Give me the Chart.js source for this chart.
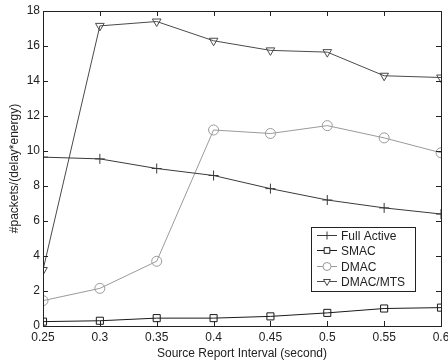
<!DOCTYPE html>
<html>
<head>
<meta charset="utf-8">
<script src="https://cdn.jsdelivr.net/npm/chart.js@4/dist/chart.umd.min.js"></script>
<style>
  html, body { margin: 0; padding: 0; background: #fff; }
  #wrap { width: 448px; height: 362px; }
</style>
</head>
<body>
<div id="wrap"><canvas id="chart"></canvas></div>
<script>
const intervals = [0.25, 0.3, 0.35, 0.4, 0.45, 0.5, 0.55, 0.6];
const fullActive = [9.65, 9.55, 9.0, 8.6, 7.85, 7.2, 6.75, 6.4];
const smac = [0.25, 0.3, 0.45, 0.45, 0.55, 0.75, 1.0, 1.05];
const dmac = [1.45, 2.15, 3.7, 11.2, 11.0, 11.45, 10.75, 9.9];
const dmacMts = [3.2, 17.15, 17.4, 16.3, 15.75, 15.65, 14.3, 14.2];
const seriesNames = ['Full Active', 'SMAC', 'DMAC', 'DMAC/MTS'];
const yTicks = [0, 2, 4, 6, 8, 10, 12, 14, 16, 18];

const font = { family: 'Arial, "Liberation Sans", sans-serif', size: 12 };

function pts(values) {
    return values.map((v, i) => ({ x: intervals[i], y: v }));
}

function series(label, values, color, style, radius, rotation) {
    return {
        label: label,
        data: pts(values),
        borderColor: color,
        backgroundColor: 'transparent',
        borderWidth: 1,
        pointStyle: style,
        pointRadius: radius,
        pointRotation: rotation || 0,
        pointBorderColor: color,
        pointBorderWidth: 1,
        pointBackgroundColor: 'transparent',
        tension: 0
    };
}

// box around plot with MATLAB style inward ticks
const framePlugin = {
    id: 'frame',
    afterDatasetsDraw(chart) {
        const { ctx, chartArea: a, scales } = chart;
        ctx.save();
        ctx.strokeStyle = '#222';
        ctx.lineWidth = 1;
        ctx.strokeRect(a.left + 0.5, a.top + 0.5, a.right - a.left, a.bottom - a.top);
        ctx.beginPath();
        const len = 5;
        intervals.forEach(v => {
            const x = Math.round(scales.x.getPixelForValue(v)) + 0.5;
            ctx.moveTo(x, a.bottom); ctx.lineTo(x, a.bottom - len);
            ctx.moveTo(x, a.top); ctx.lineTo(x, a.top + len);
        });
        yTicks.forEach(v => {
            const y = Math.round(scales.y.getPixelForValue(v)) + 0.5;
            ctx.moveTo(a.left, y); ctx.lineTo(a.left + len, y);
            ctx.moveTo(a.right, y); ctx.lineTo(a.right - len, y);
        });
        ctx.stroke();
        ctx.restore();
    }
};

// legend box inside the plot, lines with markers
const legendPlugin = {
    id: 'boxLegend',
    afterDraw(chart) {
        const { ctx } = chart;
        const x0 = 311, y0 = 227, w = 104, h = 64;
        ctx.save();
        ctx.fillStyle = '#fff';
        ctx.fillRect(x0, y0, w, h);
        ctx.strokeStyle = '#222';
        ctx.lineWidth = 1;
        ctx.strokeRect(x0 + 0.5, y0 + 0.5, w, h);
        ctx.font = '12px ' + font.family;
        ctx.textBaseline = 'middle';
        chart.data.datasets.forEach((ds, i) => {
            const y = Math.round(y0 + 8 + i * 15.3) + 0.5;
            ctx.strokeStyle = ds.borderColor;
            ctx.lineWidth = 1;
            ctx.beginPath();
            ctx.moveTo(x0 + 6, y);
            ctx.lineTo(x0 + 26, y);
            ctx.stroke();
            ctx.fillStyle = '#fff';
            Chart.helpers.drawPoint(ctx, {
                pointStyle: ds.pointStyle,
                rotation: ds.pointRotation,
                radius: 4,
                borderWidth: 1
            }, x0 + 16, y);
            ctx.fillStyle = '#222';
            ctx.fillText(ds.label, x0 + 30, y + 1);
        });
        ctx.restore();
    }
};

new Chart(document.getElementById('chart'), {
    type: 'line',
    data: {
        datasets: [
            series(seriesNames[0], fullActive, '#3a3a3a', 'cross', 5),
            series(seriesNames[1], smac, '#1a1a1a', 'rect', 5),
            series(seriesNames[2], dmac, '#9a9a9a', 'circle', 5),
            series(seriesNames[3], dmacMts, '#4a4a4a', 'triangle', 5, 180)
        ]
    },
    options: {
        responsive: true,
        maintainAspectRatio: false,
        animation: false,
        layout: { padding: { left: 0, top: 11, right: 7, bottom: 0 } },
        plugins: {
            legend: { display: false },
            tooltip: { enabled: false }
        },
        scales: {
            x: {
                type: 'linear',
                min: 0.25,
                max: 0.6,
                afterBuildTicks: s => { s.ticks = intervals.map(v => ({ value: v })); },
                afterFit: s => { s.height = 36; s.paddingLeft = 0; s.paddingRight = 0; },
                grid: { display: false, drawTicks: false },
                border: { display: false },
                ticks: {
                    color: '#222',
                    font: font,
                    padding: 4,
                    maxRotation: 0,
                    callback: v => String(+v.toFixed(2))
                },
                title: {
                    display: true,
                    text: 'Source Report Interval (second)',
                    color: '#222',
                    font: font,
                    padding: { top: 0, bottom: 1 }
                }
            },
            y: {
                min: 0,
                max: 18,
                afterBuildTicks: s => { s.ticks = yTicks.map(v => ({ value: v })); },
                afterFit: s => { s.width = 43; s.paddingTop = 0; s.paddingBottom = 0; },
                grid: { display: false, drawTicks: false },
                border: { display: false },
                ticks: {
                    color: '#222',
                    font: font,
                    padding: 3
                },
                title: {
                    display: true,
                    text: '#packets/(delay*energy)',
                    color: '#222',
                    font: font,
                    padding: { top: 7, bottom: 0 }
                }
            }
        }
    },
    plugins: [framePlugin, legendPlugin]
});
</script>
</body>
</html>
